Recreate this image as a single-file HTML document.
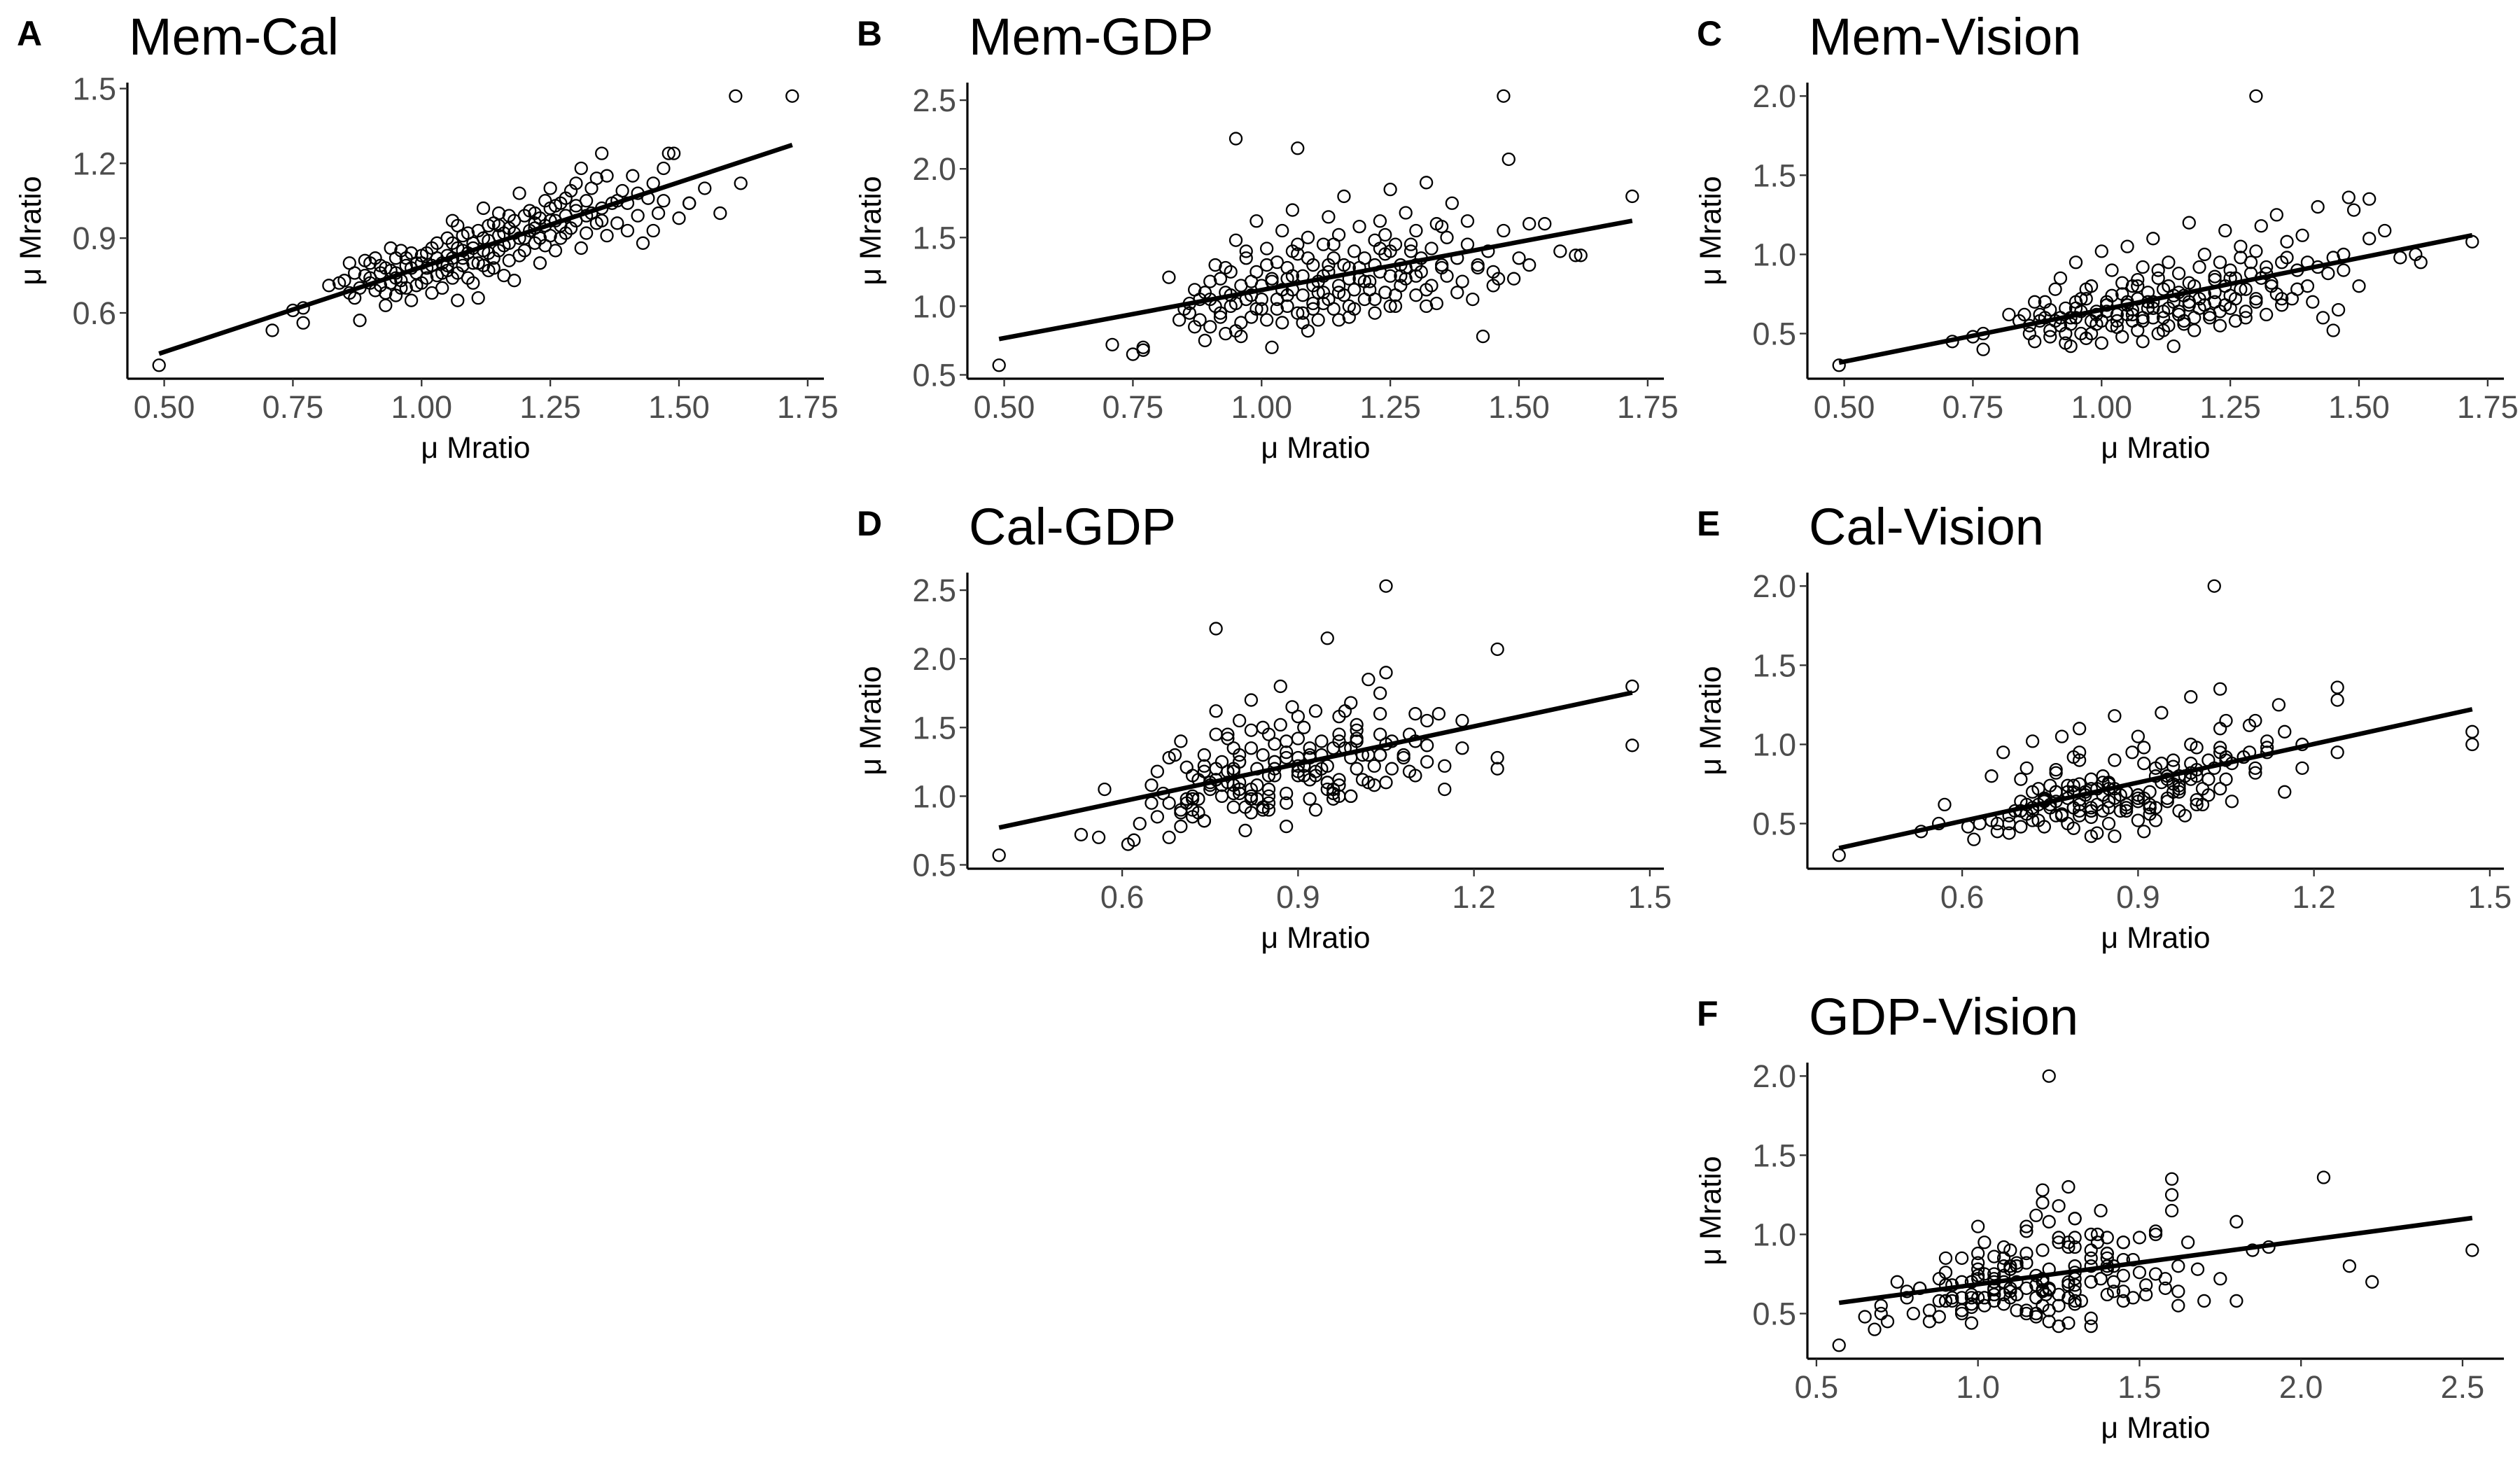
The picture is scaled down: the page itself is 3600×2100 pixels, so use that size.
<!DOCTYPE html>
<html><head><meta charset="utf-8">
<style>
html,body{margin:0;padding:0;background:#fff;}
svg{display:block;font-family:"Liberation Sans",Arial,sans-serif;}
</style></head>
<body>
<svg id="fig" xmlns="http://www.w3.org/2000/svg" width="3600" height="2100" viewBox="0 0 3600 2100">
<rect width="3600" height="2100" fill="#fff"/>
</svg>
<script>
// per-subject values: [Mem, Cal, GDP, Vision]
const subjects = [
[0.49,0.39,0.57,0.30],[1.61,1.47,1.37,1.00],[1.72,1.47,1.80,1.08],[1.30,1.03,1.22,2.00],
[1.47,1.05,2.53,0.90],[0.95,0.76,2.22,0.70],[1.07,0.95,2.15,0.80],[1.62,1.12,1.37,0.95],
[1.48,1.24,2.07,1.36],[0.71,0.53,0.72,0.45],[0.75,0.61,0.65,0.48],[0.77,0.56,0.70,0.50],
[0.77,0.62,0.68,0.40],[0.82,0.71,1.21,0.62],[1.52,1.04,1.60,1.35],[1.43,0.88,0.78,0.60],
[1.45,0.93,1.15,0.52],[1.35,1.24,1.28,0.95],[1.49,1.24,1.20,1.28],[1.25,1.10,1.40,0.85],
[0.86,0.80,1.02,0.55],[0.87,0.66,0.85,0.45],[0.88,0.57,1.05,0.62],[0.89,0.81,0.75,0.70],
[0.90,0.74,1.18,0.48],[0.91,0.69,1.30,0.58],[0.92,0.71,0.95,0.85],[0.93,0.78,1.10,0.66],
[0.93,0.63,0.80,0.50],[0.94,0.86,1.25,0.42],[0.95,0.67,1.02,0.95],[0.95,0.82,1.48,0.60],
[0.96,0.73,0.88,0.72],[0.97,0.79,1.35,0.47],[0.98,0.65,1.08,0.80],[0.98,0.84,0.92,0.58],
[0.99,0.76,1.62,0.64],[1.00,0.72,1.15,1.02],[1.00,0.83,0.98,0.44],[1.01,0.78,1.42,0.70],
[1.02,0.68,0.70,0.55],[1.02,0.86,1.20,0.90],[1.03,0.75,1.05,0.62],[1.04,0.80,1.55,0.75],
[1.04,0.70,0.88,0.48],[1.05,0.90,1.28,0.68],[1.05,0.77,1.00,1.05],[1.06,0.82,1.70,0.58],
[1.06,0.97,1.12,0.80],[1.07,0.65,0.95,0.52],[1.07,0.86,1.38,0.72],[1.08,0.79,1.08,0.92],
[1.08,0.91,1.22,0.45],[1.09,0.74,0.82,0.66],[1.09,0.84,1.50,0.76],[1.10,0.88,1.02,0.60],
[1.10,0.80,1.30,1.10],[1.11,0.66,1.18,0.50],[1.11,0.93,0.90,0.85],[1.12,0.85,1.45,0.64],
[1.12,1.02,1.10,0.78],[1.13,0.77,1.25,0.55],[1.13,0.89,1.65,0.95],[1.14,0.96,0.98,0.70],
[1.14,0.82,1.35,0.42],[1.15,0.91,1.15,0.88],[1.15,1.00,1.52,0.62],[1.16,0.75,1.08,0.74],
[1.16,0.87,1.80,0.58],[1.17,0.94,1.20,1.20],[1.17,0.81,0.92,0.68],[1.18,0.97,1.40,0.80],
[1.18,0.73,1.12,0.52],[1.19,1.08,1.28,0.92],[1.19,0.90,1.58,0.66],[1.20,0.85,1.05,0.75],
[1.20,0.99,1.35,1.00],[1.21,0.93,1.18,0.60],[1.22,1.00,1.48,0.84],[1.22,0.88,0.95,0.70],
[1.23,0.80,1.25,0.95],[1.23,0.98,1.62,0.55],[1.24,0.95,1.10,0.80],[1.24,1.05,1.38,1.15],
[1.25,0.91,1.22,0.66],[1.25,1.02,1.85,0.90],[1.26,0.85,1.00,0.72],[1.26,0.97,1.45,0.58],
[1.27,1.04,1.30,0.98],[1.27,0.90,1.15,1.05],[1.28,0.99,1.68,0.78],[1.28,1.06,1.20,0.64],
[1.29,0.94,1.40,0.88],[1.30,1.12,1.55,1.02],[1.30,0.97,1.08,0.70],[1.31,1.18,1.35,0.85],
[1.31,0.86,1.25,1.18],[1.32,1.05,1.90,0.92],[1.32,0.92,1.12,0.62],[1.33,1.00,1.42,0.80],
[1.34,1.14,1.60,1.25],[1.34,0.96,1.02,0.75],[1.35,1.02,1.30,0.68],[1.36,0.91,1.50,0.98],
[1.36,1.15,1.22,1.08],[1.37,1.04,1.75,0.72],[1.38,0.96,1.35,0.90],[1.39,1.09,1.18,1.12],
[1.40,0.93,1.62,0.80],[1.40,1.04,1.45,0.95],[1.41,1.15,1.05,0.70],[1.42,0.99,1.28,1.30],
[1.44,1.06,1.40,0.88],[1.46,1.00,1.20,0.65],[1.47,1.18,1.55,1.00],[1.50,0.98,1.35,0.80],
[1.52,1.04,1.30,1.10],[1.55,1.10,1.60,1.15],[1.58,1.00,1.40,0.98],
[0.90,0.80,1.05,0.65],[0.92,0.76,1.20,0.55],[0.94,0.72,1.00,0.60],[0.96,0.85,1.15,0.50],
[0.97,0.70,1.40,0.78],[0.99,0.80,1.25,0.62],[1.01,0.84,0.90,0.68],[1.03,0.88,1.32,0.58],
[1.04,0.76,1.12,0.82],[1.06,0.74,1.22,0.65],[1.08,0.85,0.95,0.60],[1.09,0.92,1.35,0.70],
[1.11,0.80,1.10,0.90],[1.13,0.95,1.05,0.66],[1.14,0.78,1.45,0.74],[1.16,0.92,1.30,0.56],
[1.17,0.99,1.00,0.82],[1.19,0.83,1.20,0.72],[1.21,1.01,1.12,0.62],[1.22,0.94,1.30,0.76],
[1.24,0.87,1.52,0.68],[1.26,1.03,1.08,0.85],[1.28,0.92,1.28,0.60],[1.29,1.09,1.45,0.95],
[1.33,1.10,1.15,0.82],[1.35,0.97,1.58,0.72],[0.85,0.73,0.98,0.62],[0.87,0.76,1.12,0.70],
[0.88,0.70,0.90,0.58],[0.91,0.82,1.00,0.78],[0.93,0.68,1.28,0.44],[0.95,0.74,0.82,0.66],
[0.97,0.82,1.05,0.72],[0.99,0.71,0.98,0.56],[1.02,0.79,1.18,0.74],[1.05,0.83,1.08,0.62],
[1.07,0.76,1.45,0.84],[1.10,0.72,0.98,0.70],[1.12,0.90,1.22,0.52],[1.15,0.85,0.90,0.76],
[0.90,0.72,0.85,0.52],[0.92,0.79,0.92,0.60],[0.94,0.77,1.08,0.56],[0.96,0.70,0.78,0.64],
[0.98,0.78,1.18,0.50],[1.00,0.80,1.05,0.58],[1.01,0.74,1.30,0.64],[1.03,0.82,0.98,0.54],
[1.05,0.79,1.20,0.70],[1.06,0.88,1.40,0.62],[1.08,0.82,0.88,0.58],[1.10,0.86,1.15,0.66],
[1.12,0.79,1.02,0.60],[1.13,0.84,1.30,0.80],[1.15,0.95,1.10,0.64],[1.17,0.88,1.28,0.70],
[1.18,0.92,0.98,0.60],[1.20,0.90,1.18,0.68],[1.22,0.96,1.05,0.86],[1.23,0.90,1.42,0.64],
[1.25,0.97,1.00,0.74],[1.27,0.95,1.22,0.78],[1.30,1.01,1.30,0.72],[1.32,0.99,1.00,0.88],
[0.86,0.68,0.95,0.50],[0.89,0.75,1.10,0.60],[0.84,0.72,0.90,0.58],[1.38,1.05,1.10,0.78],
[1.42,1.08,1.30,0.92],[1.45,1.12,1.25,0.98]
];
const measureNames = ["Mem","Cal","GDP","Vision"];
const memTicks = [0.5,0.75,1.0,1.25,1.5,1.75];
const memTickLabels = ["0.50","0.75","1.00","1.25","1.50","1.75"];
const calTicks = [0.6,0.9,1.2,1.5];
const calTickLabels = ["0.6","0.9","1.2","1.5"];
const gdpTicks = [0.5,1.0,1.5,2.0,2.5];
const gdpTickLabels = ["0.5","1.0","1.5","2.0","2.5"];
const visTicks = [0.5,1.0,1.5,2.0];
const visTickLabels = ["0.5","1.0","1.5","2.0"];
const panelLetters = ["A","B","C","D","E","F"];
const panelPairs = [[0,1],[0,2],[0,3],[1,2],[1,3],[2,3]];

const tickSets = [[memTicks,memTickLabels],[calTicks,calTickLabels],[gdpTicks,gdpTickLabels],[visTicks,visTickLabels]];
const layout = [[182,541],[1382,541],[2582,541],[1382,1241],[2582,1241],[2582,1941]];
const PW = 995, PH = 423;
const NS = "http://www.w3.org/2000/svg";
const svg = document.getElementById("fig");
function mk(tag, attrs, parent){
  const e = document.createElementNS(NS, tag);
  for (const k in attrs) e.setAttribute(k, attrs[k]);
  (parent||svg).appendChild(e);
  return e;
}
function col(i){ return subjects.map(r => r[i]); }
function domain(vals){
  const lo = Math.min(...vals), hi = Math.max(...vals), pad = (hi-lo)*0.05;
  return [lo-pad, hi+pad];
}
panelPairs.forEach((pair, p) => {
  const [X0, BASE] = layout[p];
  const top = BASE - PH;
  const xs = col(pair[0]), ys = col(pair[1]);
  const xd = domain(xs), yd = domain(ys);
  const sx = v => X0 + (v - xd[0]) / (xd[1]-xd[0]) * PW;
  const sy = v => BASE - (v - yd[0]) / (yd[1]-yd[0]) * PH;
  const g = mk("g", {});
  
  

  const letter = mk("text", {x: X0-158, y: BASE-476, "font-size": 50, "font-weight": "bold", fill: "#000"}, g);
  letter.textContent = panelLetters[p];
  
  

  const title = mk("text", {x: X0+2, y: BASE-463, "font-size": 74, fill: "#000"}, g);
  title.textContent = measureNames[pair[0]] + "-" + measureNames[pair[1]];
  
  

  const pts = mk("g", {}, g);
  
  
  xs.forEach((xv, i) => {
    const c = mk("circle", {cx: sx(xv), cy: sy(ys[i]), r: 8.5, fill: "none", stroke: "#000", "stroke-width": 2.3}, pts);
    
    
  });

  const n = xs.length;
  const mx = xs.reduce((a,b)=>a+b,0)/n, my = ys.reduce((a,b)=>a+b,0)/n;
  let sxy = 0, sxx = 0;
  for (let i=0;i<n;i++){ sxy += (xs[i]-mx)*(ys[i]-my); sxx += (xs[i]-mx)**2; }
  const b = sxy/sxx, a = my - b*mx;
  const x1 = Math.min(...xs), x2 = Math.max(...xs);
  const ln = mk("line", {x1: sx(x1), y1: sy(a+b*x1), x2: sx(x2), y2: sy(a+b*x2), stroke: "#000", "stroke-width": 6.5}, g);
  
  

  const ax = mk("line", {x1: X0, y1: BASE, x2: X0+PW, y2: BASE, stroke: "#000", "stroke-width": 3.2}, g);
  
  
  const ay = mk("line", {x1: X0, y1: top, x2: X0, y2: BASE, stroke: "#000", "stroke-width": 3.2}, g);
  
  

  const [xt, xl] = tickSets[pair[0]];
  xt.forEach((t, i) => {
    if (t < xd[0] || t > xd[1]) return;
    const X = sx(t);
    const tk = mk("line", {x1: X, y1: BASE, x2: X, y2: BASE+11, stroke: "#333", "stroke-width": 2.3}, g);
    
    
    const tl = mk("text", {x: X, y: BASE+56, "font-size": 45, fill: "#4d4d4d", "text-anchor": "middle"}, g);
    tl.textContent = xl[i];
    
    
  });
  const [yt, yl] = tickSets[pair[1]];
  yt.forEach((t, i) => {
    if (t < yd[0] || t > yd[1]) return;
    const Y = sy(t);
    const tk = mk("line", {x1: X0-11, y1: Y, x2: X0, y2: Y, stroke: "#333", "stroke-width": 2.3}, g);
    
    
    const tl = mk("text", {x: X0-16, y: Y+16, "font-size": 45, fill: "#4d4d4d", "text-anchor": "end"}, g);
    tl.textContent = yl[i];
    
    
  });

  const xtitle = mk("text", {x: X0+PW/2, y: BASE+113, "font-size": 43, fill: "#000", "text-anchor": "middle"}, g);
  xtitle.textContent = "μ Mratio";
  
  
  const cy = top + PH/2;
  const ytitle = mk("text", {x: X0-124, y: cy, "font-size": 43, fill: "#000", "text-anchor": "middle", transform: "rotate(-90 " + (X0-124) + " " + cy + ")"}, g);
  ytitle.textContent = "μ Mratio";
  
  
});
</script>
</body></html>
